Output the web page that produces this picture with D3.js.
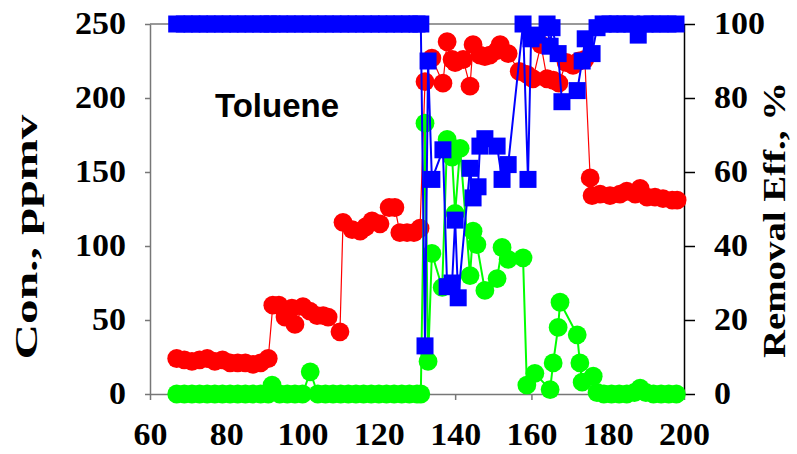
<!DOCTYPE html>
<html>
<head>
<meta charset="utf-8">
<script src="https://cdn.jsdelivr.net/npm/d3@7"></script>
<style>
  body { margin: 0; background: #fff; }
  svg { display: block; }
</style>
</head>
<body>
<svg id="chart" width="797" height="454"></svg>
<script>
// Inlet toluene concentration (ppmv) by day
const inletDays = [67,69,71,73,75,77,79,81,83,85,87,89,91,
  92.2,93.8,95.4,97.2,98,100.1,101.9,103.8,105.4,106.7,109.8,
  110.6,113,115.1,116.6,118.2,120.3,122.7,124.2,125.5,127.4,129.2,130.8,
  132.1,133.9,136.8,137.9,139.2,140,142.1,143.9,144.7,146.5,147.8,149.1,151,151.8,153.9,
  156.8,158.8,160.4,162.5,164.1,165.7,167.2,169.1,170.9,172.5,174,
  175.4,175.9,178,180.6,183.2,185,187.2,188.5,190.3,192.4,194.5,196.9,198.2];
const inletPpmv = [24,23,22,23,24,22,23,21,21,21,20,21,24,
  60,60,52,58,47,59,56,53,53,52,42,
  116,111,110,113,117,115,126,126,109,109,109,112,
  211,227,210,238,226,224,226,208,236,229,228,229,232,236,230,
  218,216,213,236,213,212,210,224,222,225,226,
  146,134,135,134,135,137,135,139,133,133,132,131,131];

// Outlet toluene concentration (ppmv) by day
const outletDays = [67,69,71,73,75,77,79,81,83,85,87,89,91,92,94,96,98,100,102,104,106,108,110,
  112,114,116,118,120,122,124,126,128,130,131,
  132.1,132.9,133.9,136.6,137.9,139.2,140,141.3,143.9,144.7,145.7,147.8,151,152.3,153.9,
  157.8,158.8,160.9,164.9,165.7,167,167.5,172,172.7,173.3,176.2,177.2,
  179,181,183,185,187,188.5,190,192,194,196,198];
const outletPpmv = [0,0,0,0,0,0,0,0,0,0,0,0,0,6,0,0,0,0,15,0,0,0,0,
  0,0,0,0,0,0,0,0,0,0,0,
  183,22,95,72,172,160,122,166,80,110,101,70,78,99,91,
  92,6,14,3,21,45,62,40,21,8,12,1,
  0,0,0,0,1,4,1,0,0,0,0];

// Removal efficiency (%) by day
const effDays = [67,69,71,73,75,77,79,81,83,85,87,89,91,92,94,96,98,100,102,104,106,108,110,
  112,114,116,118,120,122,124,126,128,130,131,
  132.1,132.9,133.9,136.8,137.9,139.2,140,140.8,143.9,144.7,146,146.5,147.8,151,152.3,153.9,
  157.8,159.1,159.9,161.5,164.1,164.9,165.4,167,168,172,173.3,174.1,175.9,177.2,
  178.8,180.6,182.5,184.5,186.3,188,189.8,191.6,193.7,195.8,197.9];
const effPct = [100,100,100,100,100,100,100,100,100,100,100,100,100,100,100,100,100,100,100,100,100,100,100,
  100,100,100,100,100,100,100,100,100,100,100,
  13,90,58,66,29,30,47,26,61,53,56,67,69,67,58,62,
  100,58,96,97,100,94,99,92,79,82,90,96,92,99,
  100,100,100,100,100,97,100,100,100,100,100];

const xTicks = [60,80,100,120,140,160,180,200];
const yLeftTicks = [0,50,100,150,200,250];
const yRightTicks = [0,20,40,60,80,100];

const svg = d3.select("#chart");
const x = d3.scaleLinear().domain([60, 200]).range([150, 684]);
const yL = d3.scaleLinear().domain([0, 250]).range([394, 24]);
const yR = d3.scaleLinear().domain([0, 100]).range([394, 24]);

const serif = "'Liberation Serif','Times New Roman',serif";
const gray = "#777";
const digitW = 17;

// frame: top border
svg.append("line").attr("x1", 150).attr("x2", 684).attr("y1", 24).attr("y2", 24)
  .attr("stroke", gray).attr("stroke-width", 1.5);

// axes
function styleAxis(g, color) {
  g.select(".domain").attr("stroke", color).attr("stroke-width", 1.5);
  g.selectAll(".tick line").attr("stroke", color).attr("stroke-width", 1.5);
  g.selectAll(".tick text")
    .attr("fill", "#000")
    .style("font-family", serif)
    .style("font-weight", "bold")
    .style("font-size", "31px")
    .attr("textLength", function () { return this.textContent.length * digitW; })
    .attr("lengthAdjust", "spacingAndGlyphs");
}

const gx = svg.append("g").attr("transform", "translate(0,394)")
  .call(d3.axisBottom(x).tickValues(xTicks).tickSize(6).tickSizeOuter(0).tickPadding(23));
styleAxis(gx, gray);

const gyl = svg.append("g").attr("transform", "translate(150,0)")
  .call(d3.axisLeft(yL).tickValues(yLeftTicks).tickSize(5).tickSizeOuter(0).tickPadding(19));
styleAxis(gyl, gray);

const gyr = svg.append("g").attr("transform", "translate(684,0)")
  .call(d3.axisRight(yR).tickValues(yRightTicks).tickSize(11).tickSizeOuter(0).tickPadding(19));
styleAxis(gyr, "#000");

// axis titles
svg.append("text")
  .attr("transform", "translate(37,237) rotate(-90)")
  .attr("text-anchor", "middle")
  .style("font-family", serif).style("font-weight", "bold").style("font-size", "32px")
  .attr("textLength", 245).attr("lengthAdjust", "spacingAndGlyphs")
  .text("Con., ppmv");

svg.append("text")
  .attr("transform", "translate(785,220) rotate(-90)")
  .attr("text-anchor", "middle")
  .style("font-family", serif).style("font-weight", "bold").style("font-size", "32px")
  .attr("textLength", 276).attr("lengthAdjust", "spacingAndGlyphs")
  .text("Removal Eff., %");

// compound label
svg.append("text")
  .attr("x", 215).attr("y", 117)
  .style("font-family", "'Liberation Sans',Arial,sans-serif")
  .style("font-weight", "bold").style("font-size", "33px")
  .text("Toluene");

// series
const plot = svg.append("g");

function drawSeries(days, vals, yScale, color, lineW, shape) {
  const pts = days.map((d, i) => [x(d), yScale(vals[i])]);
  plot.append("path")
    .attr("d", d3.line()(pts))
    .attr("fill", "none").attr("stroke", color).attr("stroke-width", lineW);
  if (shape === "circle") {
    plot.append("g").selectAll("circle").data(pts).join("circle")
      .attr("cx", p => p[0]).attr("cy", p => p[1]).attr("r", 9.4)
      .attr("fill", color);
  } else {
    const s = 17;
    plot.append("g").selectAll("rect").data(pts).join("rect")
      .attr("x", p => p[0] - s / 2).attr("y", p => p[1] - s / 2)
      .attr("width", s).attr("height", s).attr("fill", color);
  }
}

drawSeries(inletDays, inletPpmv, yL, "#ff0000", 1.2, "circle");
drawSeries(outletDays, outletPpmv, yL, "#00ff00", 2, "circle");
drawSeries(effDays, effPct, yR, "#0000ff", 2, "square");
</script>
</body>
</html>
